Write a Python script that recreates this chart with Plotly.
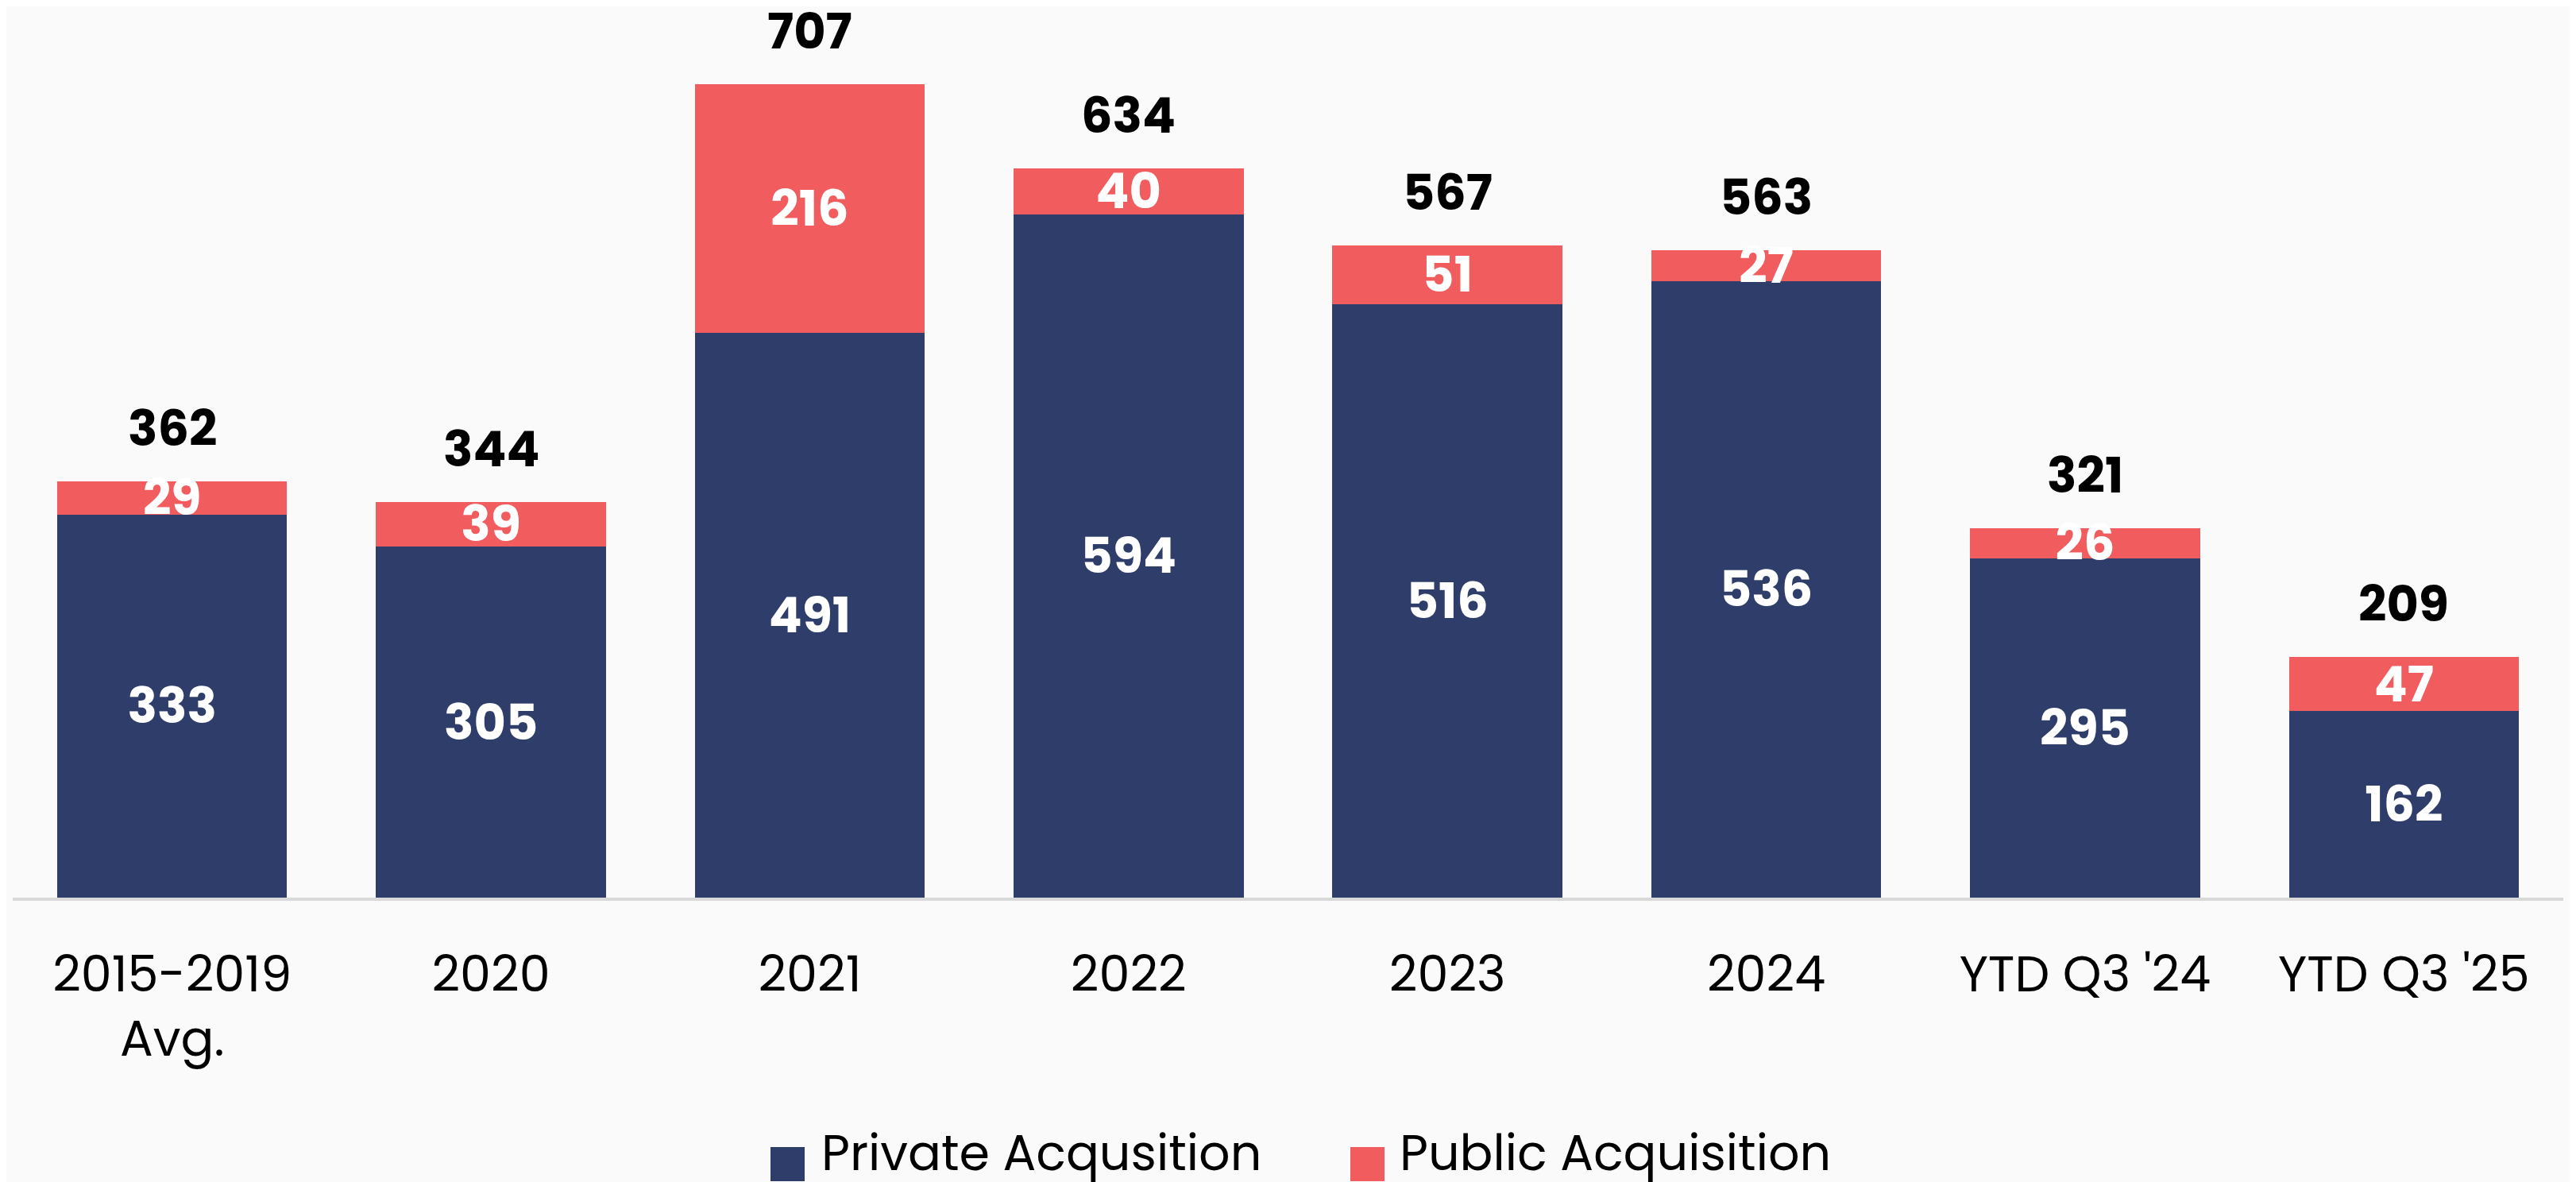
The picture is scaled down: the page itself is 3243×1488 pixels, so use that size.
import plotly.graph_objects as go

categories = ["2015-2019<br>Avg.", "2020", "2021", "2022", "2023", "2024", "YTD Q3 '24", "YTD Q3 '25"]
private_acq = [333, 305, 491, 594, 516, 536, 295, 162]
public_acq = [29, 39, 216, 40, 51, 27, 26, 47]
series_names = ["Private Acqusition", "Public Acquisition"]
colors = ["#2E3D69", "#F15C5F"]
totals = [a + b for a, b in zip(private_acq, public_acq)]

W, H = 3243, 1488
ML, MR, MT, MB = 8, 24, 0, 366
FONT = "Poppins, Inter, sans-serif"
FS = 62

fig = go.Figure()
for name, vals, col in zip(series_names, [private_acq, public_acq], colors):
    fig.add_trace(go.Bar(
        x=categories, y=vals, name=name, marker=dict(color=col, line=dict(width=0)),
        text=[str(v) for v in vals], textposition="inside", insidetextanchor="middle",
        textangle=0, constraintext="none",
        insidetextfont=dict(color="white", size=FS, family=FONT, weight="bold"),
        showlegend=False, cliponaxis=False,
    ))

for i, t in enumerate(totals):
    fig.add_annotation(x=i, y=t, text=f"<b>{t}</b>", showarrow=False, yanchor="bottom",
                       yshift=21, font=dict(size=FS, color="black", family=FONT))

# manual legend (large squares)
pw = W - ML - MR
ph = H - MT - MB
def px_x(px):
    return (px - ML) / pw
def px_y(py):
    return (H - MB - py) / ph

legend_items = [(962, 1005, 1024), (1692, 1735, 1752)]
for (x0, x1, tx), name, col in zip(legend_items, series_names, colors):
    fig.add_shape(type="rect", xref="paper", yref="paper",
                  x0=px_x(x0), x1=px_x(x1), y0=px_y(1479), y1=px_y(1436),
                  fillcolor=col, line=dict(width=0))
    fig.add_annotation(xref="paper", yref="paper", x=px_x(tx), y=px_y(1443),
                       text=name, showarrow=False, xanchor="left", yanchor="middle",
                       font=dict(size=FS, color="black", family=FONT))

fig.update_layout(
    width=W, height=H, barmode="stack", bargap=0.279,
    margin=dict(l=ML, r=MR, t=MT, b=MB),
    paper_bgcolor="#FAFAFA", plot_bgcolor="#FAFAFA",
    font=dict(family=FONT, size=FS, color="black"),
    uniformtext=dict(minsize=FS, mode="show"),
    showlegend=False,
)
fig.update_xaxes(type="category", range=[-0.5, len(categories) - 0.5],
                 showline=True, linecolor="#D9D9D9", linewidth=4, ticks="",
                 tickfont=dict(size=FS, family=FONT, color="black"),
                 ticklabelstandoff=40, showgrid=False)
fig.update_yaxes(range=[0, 774.6], visible=False, showgrid=False, zeroline=False)

fig.write_html("out.html")
